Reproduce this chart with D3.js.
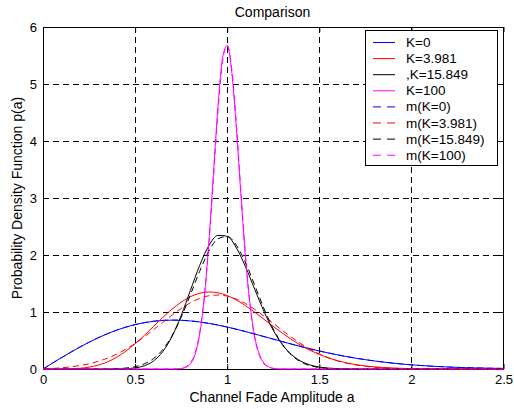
<!DOCTYPE html>
<html>
<head>
<meta charset="utf-8">
<script src="https://cdn.jsdelivr.net/npm/d3@7"></script>
<style>
  body { margin: 0; background: #fff; }
  svg { font-family: "Liberation Sans", Arial, sans-serif; }
  .tick text { font-size: 13px; fill: #000; }
</style>
</head>
<body>
<div id="chart"></div>
<script>
// amplitude grid for the wide curves
var aGrid = [0, 0.05, 0.1, 0.15, 0.2, 0.25, 0.3, 0.35, 0.4, 0.45, 0.5, 0.55, 0.6, 0.65, 0.7, 0.75, 0.8, 0.85, 0.9, 0.95,
  1.0, 1.05, 1.1, 1.15, 1.2, 1.25, 1.3, 1.35, 1.4, 1.45, 1.5, 1.55, 1.6, 1.65, 1.7, 1.75, 1.8, 1.85, 1.9, 1.95,
  2.0, 2.05, 2.1, 2.15, 2.2, 2.25, 2.3, 2.35, 2.4, 2.45, 2.5];
// finer grid for the narrow K=100 peak
var aFine = [0, 0.7, 0.725, 0.75, 0.775, 0.8, 0.825, 0.85, 0.875, 0.9, 0.925, 0.95, 0.975, 1.0,
  1.025, 1.05, 1.075, 1.1, 1.125, 1.15, 1.175, 1.2, 1.225, 1.25, 1.275, 1.3, 2.5];

var pK0 = [0, 0.0998, 0.198, 0.2933, 0.3843, 0.4697, 0.5484, 0.6193, 0.6817, 0.735, 0.7788, 0.8129, 0.8372, 0.852, 0.8577, 0.8547, 0.8437, 0.8254, 0.8008, 0.7706,
  0.7358, 0.6974, 0.6561, 0.6129, 0.5686, 0.5239, 0.4798, 0.4364, 0.3944, 0.3542, 0.3162, 0.2805, 0.2474, 0.2169, 0.189, 0.1637, 0.141, 0.1207, 0.1028, 0.0871,
  0.0733, 0.0614, 0.0511, 0.0423, 0.0348, 0.0285, 0.0232, 0.0188, 0.0151, 0.0121, 0.0096];
var pK4 = [0, 0, 0.0006, 0.0035, 0.0124, 0.0321, 0.0679, 0.1249, 0.2064, 0.313, 0.4426, 0.5898, 0.7465, 0.9028, 1.0481, 1.1727, 1.268, 1.3286, 1.3515, 1.3368,
  1.2881, 1.2102, 1.1098, 0.9945, 0.8713, 0.747, 0.627, 0.5156, 0.4157, 0.3285, 0.2547, 0.1938, 0.1447, 0.1061, 0.0764, 0.0541, 0.0376, 0.0257, 0.0173, 0.0114,
  0.0074, 0.0047, 0.003, 0.0018, 0.0011, 0.0007, 0.0004, 0.0002, 0.0001, 0.0001, 0];
var pK16 = [0, 0, 0, 0, 0, 0, 0, 0.0002, 0.0011, 0.005, 0.0186, 0.056, 0.1412, 0.3042, 0.5692, 0.938, 1.3761, 1.8131, 2.1612, 2.3452,
  2.3285, 2.1249, 1.7891, 1.3942, 1.0086, 0.6791, 0.4265, 0.2503, 0.1376, 0.0709, 0.0343, 0.0156, 0.0067, 0.0027, 0.001, 0.0004, 0, 0, 0, 0,
  0, 0, 0, 0, 0, 0, 0, 0, 0, 0, 0];
var pK100 = [0, 0.0003, 0.0015, 0.0069, 0.027, 0.0889, 0.2493, 0.5981, 1.2345, 2.2028, 3.4141, 4.6145, 5.4598, 5.675,
  5.1993, 4.2104, 3.0232, 1.9294, 1.0972, 0.5572, 0.2533, 0.1033, 0.0378, 0.0125, 0.0037, 0.001, 0];

var mK0 = [0, 0.0998, 0.198, 0.2933, 0.3843, 0.4697, 0.5484, 0.6193, 0.6817, 0.735, 0.7788, 0.8129, 0.8372, 0.852, 0.8577, 0.8547, 0.8437, 0.8254, 0.8008, 0.7706,
  0.7358, 0.6974, 0.6561, 0.6129, 0.5686, 0.5239, 0.4798, 0.4364, 0.3944, 0.3542, 0.3162, 0.2805, 0.2474, 0.2169, 0.189, 0.1637, 0.141, 0.1207, 0.1028, 0.0871,
  0.0733, 0.0614, 0.0511, 0.0423, 0.0348, 0.0285, 0.0232, 0.0188, 0.0151, 0.0121, 0.0096];
var mK4 = [0, 0.0096, 0.0214, 0.0374, 0.0599, 0.0913, 0.1339, 0.1898, 0.2608, 0.3472, 0.4491, 0.564, 0.6882, 0.8174, 0.9442, 1.0615, 1.1617, 1.2378, 1.2844, 1.2982,
  1.2782, 1.226, 1.1459, 1.0437, 0.9263, 0.8014, 0.6756, 0.5552, 0.4448, 0.3473, 0.2644, 0.1962, 0.142, 0.1001, 0.0689, 0.0462, 0.0302, 0.0193, 0.012, 0.0073,
  0.0044, 0.0026, 0.0015, 0.0009, 0.0005, 0.0003, 0.0002, 0.0001, 0.0001, 0, 0];
var mK16 = [0, 0, 0, 0, 0.0001, 0.0002, 0.0007, 0.0022, 0.0063, 0.0168, 0.0406, 0.0901, 0.1829, 0.3402, 0.58, 0.9065, 1.2997, 1.7095, 2.0636, 2.286,
  2.3247, 2.1704, 1.8606, 1.4645, 1.0587, 0.7029, 0.4286, 0.2401, 0.1235, 0.0584, 0.0254, 0.0101, 0.0037, 0.0013, 0.0004, 0, 0, 0, 0, 0,
  0, 0, 0, 0, 0, 0, 0, 0, 0, 0, 0];
var mK100 = [0, 0.0007, 0.0031, 0.0115, 0.0377, 0.1091, 0.2786, 0.6265, 1.2413, 2.167, 3.3331, 4.5172, 5.3931, 5.673,
  5.2589, 4.2957, 3.0913, 1.9605, 1.0955, 0.5394, 0.2341, 0.0895, 0.0301, 0.009, 0.0023, 0.0005, 0];

var seriesNames = ["K=0", "K=3.981", ",K=15.849", "K=100", "m(K=0)", "m(K=3.981)", "m(K=15.849)", "m(K=100)"];
var seriesColors = ["#0000ff", "#ff0000", "#000000", "#ff00ff", "#0000ff", "#ff0000", "#000000", "#ff00ff"];
var seriesDashed = [false, false, false, false, true, true, true, true];
var seriesX = [aGrid, aGrid, aGrid, aFine, aGrid, aGrid, aGrid, aFine];
var seriesY = [pK0, pK4, pK16, pK100, mK0, mK4, mK16, mK100];

var xTicks = [0, 0.5, 1, 1.5, 2, 2.5];
var xTickLabels = ["0", "0.5", "1", "1.5", "2", "2.5"];
var yTicks = [0, 1, 2, 3, 4, 5, 6];
var yTickLabels = ["0", "1", "2", "3", "4", "5", "6"];

function draw() {
    var W = 514, H = 409;
    var pl = 43, pr = 503.5, pt = 27, pb = 369;

    var svg = d3.select("#chart").append("svg")
        .attr("width", W)
        .attr("height", H);

    var x = d3.scaleLinear().domain([0, 2.5]).range([pl, pr]);
    var y = d3.scaleLinear().domain([0, 6]).range([pb, pt]);

    // grid
    svg.append("g").selectAll("line")
        .data(xTicks.slice(1, -1))
        .enter().append("line")
        .attr("x1", function(d) { return x(d); }).attr("x2", function(d) { return x(d); })
        .attr("y1", pt).attr("y2", pb)
        .attr("stroke", "#000").attr("stroke-width", 1).attr("stroke-dasharray", "6,4")
        .attr("shape-rendering", "crispEdges");
    svg.append("g").selectAll("line")
        .data(yTicks.slice(1, -1))
        .enter().append("line")
        .attr("y1", function(d) { return y(d); }).attr("y2", function(d) { return y(d); })
        .attr("x1", pl).attr("x2", pr)
        .attr("stroke", "#000").attr("stroke-width", 1).attr("stroke-dasharray", "6,4")
        .attr("shape-rendering", "crispEdges");

    // axes, ticks pointing inward
    var gx = svg.append("g").attr("transform", "translate(0," + pb + ")")
        .call(d3.axisBottom(x).tickValues(xTicks).tickSize(-5).tickPadding(6)
            .tickFormat(function(d, i) { return xTickLabels[i]; }));
    var gy = svg.append("g").attr("transform", "translate(" + pl + ",0)")
        .call(d3.axisLeft(y).tickValues(yTicks).tickSize(-5).tickPadding(6)
            .tickFormat(function(d, i) { return yTickLabels[i]; }));
    var gt = svg.append("g").attr("transform", "translate(0," + pt + ")")
        .call(d3.axisTop(x).tickValues(xTicks).tickSize(-5).tickFormat(""));
    var gr = svg.append("g").attr("transform", "translate(" + pr + ",0)")
        .call(d3.axisRight(y).tickValues(yTicks).tickSize(-5).tickFormat(""));
    [gx, gy, gt, gr].forEach(function(g) {
        g.select(".domain").remove();
        g.selectAll(".tick line").attr("stroke", "#000");
    });

    svg.append("rect")
        .attr("x", pl).attr("y", pt)
        .attr("width", pr - pl).attr("height", pb - pt)
        .attr("fill", "none").attr("stroke", "#000").attr("stroke-width", 1)
        .attr("shape-rendering", "crispEdges");

    // curves
    var line = d3.line()
        .x(function(d) { return x(d[0]); })
        .y(function(d) { return y(d[1]); })
        .curve(d3.curveMonotoneX);

    seriesNames.forEach(function(name, i) {
        var pts = seriesX[i].map(function(a, j) { return [a, seriesY[i][j]]; });
        svg.append("path")
            .datum(pts)
            .attr("d", line)
            .attr("fill", "none")
            .attr("stroke", seriesColors[i])
            .attr("stroke-width", 1)
            .attr("stroke-dasharray", seriesDashed[i] ? "6,4" : null);
    });

    // title and labels
    svg.append("text")
        .attr("x", 272.5).attr("y", 17)
        .attr("text-anchor", "middle").attr("font-size", 14)
        .text("Comparison");
    svg.append("text")
        .attr("x", 272).attr("y", 401.5)
        .attr("text-anchor", "middle").attr("font-size", 14)
        .text("Channel Fade Amplitude a");
    svg.append("text")
        .attr("transform", "translate(22,198) rotate(-90)")
        .attr("text-anchor", "middle").attr("font-size", 14)
        .text("Probability Density Function p(a)");

    // legend
    var lg = svg.append("g");
    lg.append("rect")
        .attr("x", 365).attr("y", 30).attr("width", 132).attr("height", 135)
        .attr("fill", "#fff").attr("stroke", "#000").attr("stroke-width", 1)
        .attr("shape-rendering", "crispEdges");
    seriesNames.forEach(function(name, i) {
        var cy = 42.5 + i * 16.1;
        lg.append("line")
            .attr("x1", 373).attr("x2", 395).attr("y1", cy).attr("y2", cy)
            .attr("stroke", seriesColors[i]).attr("stroke-width", 1)
            .attr("stroke-dasharray", seriesDashed[i] ? "8,6" : null);
        lg.append("text")
            .attr("x", 406).attr("y", cy + 4.5)
            .attr("font-size", 13.5)
            .text(name);
    });
}

draw();
</script>
</body>
</html>
